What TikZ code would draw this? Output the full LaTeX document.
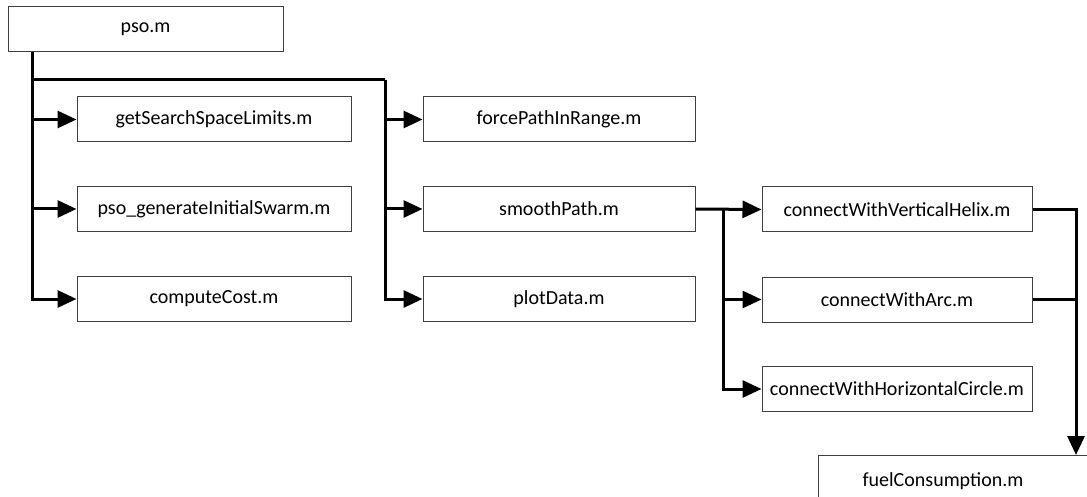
\documentclass[tikz,border=0pt]{standalone}
\usepackage{fontspec}
\setmainfont{Carlito}
\usetikzlibrary{arrows.meta}
\tikzset{
  filebox/.style={draw=black!75, line width=1pt, rectangle, minimum height=45pt,
    inner sep=0pt, font=\fontsize{20}{24}\selectfont},
  conn/.style={line width=3pt, -{Triangle[length=19pt,width=17pt]}},
  wire/.style={line width=3pt}
}
\begin{document}
\begin{tikzpicture}[x=1pt,y=-1pt]
\clip (0,0) rectangle (1087,497);

% main script
\node[filebox, minimum width=275pt] (pso) at (145.5,29.5) {pso.m};

% first column of called files
\node[filebox, minimum width=274pt] (gssl) at (214,119.5) {getSearchSpaceLimits.m};
\node[filebox, minimum width=274pt] (pgis) at (214,209) {pso\_generateInitialSwarm.m};
\node[filebox, minimum width=274pt] (cc)   at (214,299) {computeCost.m};

% second column
\node[filebox, minimum width=272pt] (fpr) at (559,119.5) {forcePathInRange.m};
\node[filebox, minimum width=272pt] (sp)  at (559,209) {smoothPath.m};
\node[filebox, minimum width=272pt] (pd)  at (559,299) {plotData.m};

% third column
\node[filebox, minimum width=270pt] (helix) at (897,209.5) {connectWithVerticalHelix.m};
\node[filebox, minimum width=270pt] (arc)   at (897,299.5) {connectWithArc.m};
\node[filebox, minimum width=270pt] (hc)    at (897,389) {connectWithHorizontalCircle.m};

% last file, running past the page edge
\node[filebox, anchor=north west, minimum width=300pt, minimum height=60pt] (fuel) at (818,455) {};
\node[font=\fontsize{20}{24}\selectfont, inner sep=0pt] (fueltext) at (943,481) {fuelConsumption.m};

% junction points
\coordinate (j1) at (32,80);
\coordinate (j2) at (385,80);
\coordinate (j3) at (723,209);
\coordinate (j4) at (1076,209.5);

% pso.m calls
\draw[conn] (j1 |- pso.south) |- (gssl.west);
\draw[conn] (j1 |- pso.south) |- (pgis.west);
\draw[conn] (j1 |- pso.south) |- (cc.west);
\draw[wire] (j1) -- (j2);
\draw[conn] (j2) |- (fpr.west);
\draw[conn] (j2) |- (sp.west);
\draw[conn] (j2) |- (pd.west);

% smoothPath.m calls
\draw[conn] (sp.east) -- (helix.west);
\draw[conn] (j3) |- (arc.west);
\draw[conn] (j3) |- (hc.west);

% path builders feed the fuel model
\draw[conn] (helix.east) -| (j4 |- fuel.north);
\draw[wire] (arc.east) -- (arc.east -| j4);
\end{tikzpicture}
\end{document}
